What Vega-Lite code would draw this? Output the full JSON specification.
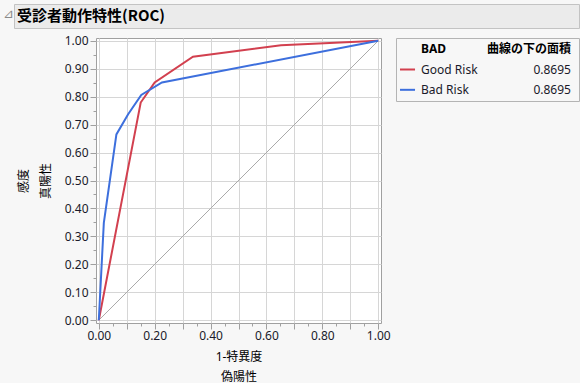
{
  "$schema": "https://vega.github.io/schema/vega-lite/v6.json",
  "background": "#f7f7f7",
  "padding": {"left": 2, "top": 3, "right": 0, "bottom": 0},
  "config": {
    "font": "Noto Sans, Noto Sans CJK JP",
    "view": {"stroke": null}
  },
  "datasets": {
    "roc": [
      {"series": "Good Risk", "fpr": 0, "tpr": 0},
      {"series": "Good Risk", "fpr": 0.15, "tpr": 0.779},
      {"series": "Good Risk", "fpr": 0.2, "tpr": 0.851},
      {"series": "Good Risk", "fpr": 0.337, "tpr": 0.943},
      {"series": "Good Risk", "fpr": 0.652, "tpr": 0.984},
      {"series": "Good Risk", "fpr": 1, "tpr": 1},
      {"series": "Bad Risk", "fpr": 0, "tpr": 0},
      {"series": "Bad Risk", "fpr": 0.018, "tpr": 0.348},
      {"series": "Bad Risk", "fpr": 0.063, "tpr": 0.665},
      {"series": "Bad Risk", "fpr": 0.105, "tpr": 0.737},
      {"series": "Bad Risk", "fpr": 0.152, "tpr": 0.806},
      {"series": "Bad Risk", "fpr": 0.226, "tpr": 0.851},
      {"series": "Bad Risk", "fpr": 1, "tpr": 1}
    ],
    "diag": [
      {"fpr": 0, "tpr": 0},
      {"fpr": 1, "tpr": 1}
    ],
    "legend": [
      {"series": "BAD", "label": "BAD", "auc": "曲線の下の面積", "header": true},
      {"series": "Good Risk", "label": "Good Risk", "auc": "0.8695", "header": false},
      {"series": "Bad Risk", "label": "Bad Risk", "auc": "0.8695", "header": false}
    ]
  },
  "bounds": "flush",
  "spacing": 10,
  "vconcat": [
    {
      "width": 565,
      "height": 24,
      "view": {"fill": "#ebebeb", "stroke": "#c3c3c3"},
      "data": {"values": [{"title": "受診者動作特性(ROC)", "icon": "⊿"}]},
      "layer": [
        {
          "mark": {"type": "text", "align": "left", "baseline": "middle", "dx": -11, "dy": -2, "fontSize": 13, "color": "#8a8a8a", "font": "DejaVu Sans"},
          "encoding": {
            "text": {"field": "icon"},
            "x": {"datum": 0, "type": "quantitative", "scale": {"domain": [0, 1], "nice": false}, "axis": null},
            "y": {"datum": 0.5, "type": "quantitative", "scale": {"domain": [0, 1], "nice": false}, "axis": null}
          }
        },
        {
          "mark": {"type": "text", "align": "left", "baseline": "middle", "dx": 3, "fontSize": 15, "fontWeight": "bold", "color": "#000000", "font": "Noto Sans CJK JP"},
          "encoding": {
            "text": {"field": "title"},
            "x": {"datum": 0, "type": "quantitative"},
            "y": {"datum": 0.5, "type": "quantitative"}
          }
        }
      ]
    },
    {
      "bounds": "flush",
      "spacing": 15,
      "hconcat": [
        {
          "width": 67,
          "height": 285,
          "view": {"stroke": null},
          "data": {"values": []},
          "mark": "point"
        },
        {
          "width": 285,
          "height": 285,
          "view": {"fill": "#ffffff", "stroke": "#a0a0a0"},
          "encoding": {
            "x": {
              "field": "fpr",
              "type": "quantitative",
              "scale": {"domain": [-0.01, 1.01], "nice": false, "zero": false},
              "axis": {
                "values": [0, 0.05, 0.1, 0.15, 0.2, 0.25, 0.3, 0.35, 0.4, 0.45, 0.5, 0.55, 0.6, 0.65, 0.7, 0.75, 0.8, 0.85, 0.9, 0.95, 1],
                "labelExpr": "round(datum.value*100) % 20 == 0 ? format(datum.value, '.2f') : ''",
                "labelOverlap": false,
                "labelFlush": false,
                "domain": false,
                "tickColor": "#a0a0a0",
                "tickSize": {"condition": {"test": "round(datum.value*100) % 10 == 0", "value": 6}, "value": 3},
                "grid": true,
                "gridColor": "#d6d6d6",
                "gridOpacity": {"condition": {"test": "round(datum.value*100) % 10 == 0", "value": 1}, "value": 0},
                "labelFontSize": 12,
                "labelColor": "#1a1a2a",
                "labelPadding": 1,
                "title": ["1-特異度", "偽陽性"],
                "titleFontSize": 12,
                "titleFontWeight": "normal",
                "titleColor": "#000000",
                "titleLineHeight": 20,
                "titlePadding": 10
              }
            },
            "y": {
              "field": "tpr",
              "type": "quantitative",
              "scale": {"domain": [-0.01, 1.01], "nice": false, "zero": false},
              "axis": {
                "values": [0, 0.05, 0.1, 0.15, 0.2, 0.25, 0.3, 0.35, 0.4, 0.45, 0.5, 0.55, 0.6, 0.65, 0.7, 0.75, 0.8, 0.85, 0.9, 0.95, 1],
                "labelExpr": "round(datum.value*100) % 10 == 0 ? format(datum.value, '.2f') : ''",
                "labelOverlap": false,
                "labelFlush": false,
                "domain": false,
                "tickColor": "#a0a0a0",
                "tickSize": {"condition": {"test": "round(datum.value*100) % 10 == 0", "value": 6}, "value": 3},
                "grid": true,
                "gridColor": "#d6d6d6",
                "gridOpacity": {"condition": {"test": "round(datum.value*100) % 10 == 0", "value": 1}, "value": 0},
                "labelFontSize": 12,
                "labelColor": "#1a1a2a",
                "labelPadding": 2,
                "title": ["感度", "真陽性"],
                "titleFontSize": 12,
                "titleFontWeight": "normal",
                "titleColor": "#000000",
                "titleLineHeight": 22,
                "titlePadding": 12
              }
            }
          },
          "layer": [
            {
              "data": {"name": "diag"},
              "mark": {"type": "line", "color": "#aaaaaa", "strokeWidth": 1}
            },
            {
              "data": {"name": "roc"},
              "mark": {"type": "line", "strokeWidth": 2},
              "encoding": {
                "color": {
                  "field": "series",
                  "type": "nominal",
                  "scale": {"domain": ["Good Risk", "Bad Risk"], "range": ["#d2404f", "#3d6fdd"]},
                  "legend": null
                }
              }
            }
          ]
        },
        {
          "width": 183,
          "height": 63,
          "view": {"fill": "#f7f7f7", "stroke": "#b4b4b4"},
          "data": {"name": "legend"},
          "encoding": {
            "y": {
              "field": "series",
              "type": "nominal",
              "scale": {"type": "point", "domain": ["BAD", "Good Risk", "Bad Risk"], "padding": 0.55},
              "axis": null
            }
          },
          "layer": [
            {
              "transform": [{"filter": "!datum.header"}],
              "mark": {"type": "rule", "strokeWidth": 2},
              "encoding": {
                "x": {"datum": 0.022, "type": "quantitative", "scale": {"domain": [0, 1], "nice": false}, "axis": null},
                "x2": {"datum": 0.104},
                "color": {
                  "field": "series",
                  "type": "nominal",
                  "scale": {"domain": ["Good Risk", "Bad Risk"], "range": ["#d2404f", "#3d6fdd"]},
                  "legend": null
                }
              }
            },
            {
              "transform": [{"filter": "!datum.header"}],
              "mark": {"type": "text", "align": "left", "baseline": "middle", "fontSize": 12, "color": "#1a1a2a"},
              "encoding": {
                "x": {"datum": 0.137, "type": "quantitative"},
                "text": {"field": "label"}
              }
            },
            {
              "transform": [{"filter": "!datum.header"}],
              "mark": {"type": "text", "align": "right", "baseline": "middle", "fontSize": 12, "color": "#1a1a2a"},
              "encoding": {
                "x": {"datum": 0.956, "type": "quantitative"},
                "text": {"field": "auc"}
              }
            },
            {
              "transform": [{"filter": "datum.header"}],
              "mark": {"type": "text", "align": "left", "baseline": "middle", "fontSize": 12, "fontWeight": "bold", "color": "#000000"},
              "encoding": {
                "x": {"datum": 0.137, "type": "quantitative"},
                "text": {"field": "label"}
              }
            },
            {
              "transform": [{"filter": "datum.header"}],
              "mark": {"type": "text", "align": "right", "baseline": "middle", "fontSize": 12, "fontWeight": "bold", "color": "#000000"},
              "encoding": {
                "x": {"datum": 0.956, "type": "quantitative"},
                "text": {"field": "auc"}
              }
            }
          ]
        }
      ]
    }
  ]
}
